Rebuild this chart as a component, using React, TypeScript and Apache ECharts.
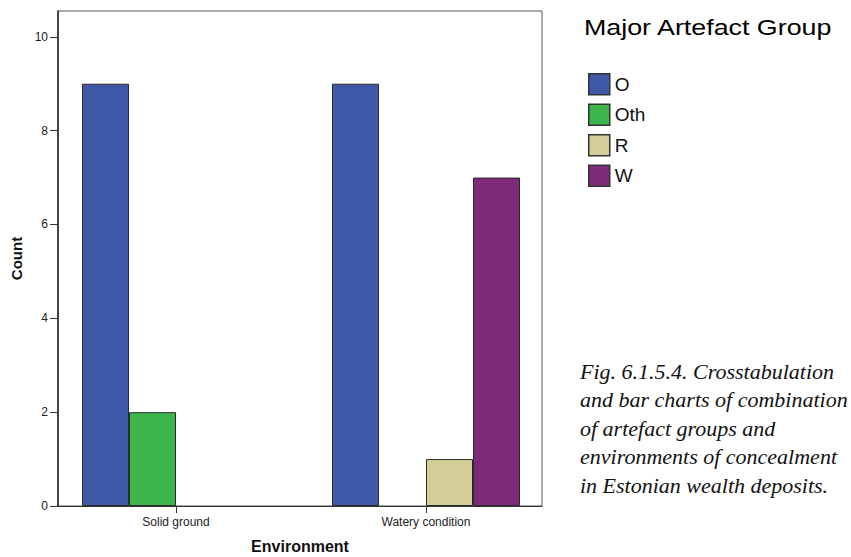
import React, { useEffect, useRef } from "react";
import * as echarts from "echarts";

const categories = ["Solid ground", "Watery condition"];
const seriesNames = ["O", "Oth", "R", "W"];
const valuesO = [9, 9];
const valuesOth = [2, null];
const valuesR = [null, 1];
const valuesW = [null, 7];
const yTicks = [0, 2, 4, 6, 8, 10];
const colors = ["#4058a8", "#3cb54b", "#d4cf98", "#7d2a7b"];
const captionLines = [
  "Fig. 6.1.5.4. Crosstabulation",
  "and bar charts of combination",
  "of artefact groups and",
  "environments of concealment",
  "in Estonian wealth deposits.",
];

const FONT = '"Liberation Sans", Arial, sans-serif';

export default function App() {
  const ref = useRef<HTMLDivElement>(null);
  useEffect(() => {
    if (!ref.current) return;
    const chart = echarts.init(ref.current, null, { renderer: "svg" });
    const allValues = [valuesO, valuesOth, valuesR, valuesW];
    chart.setOption({
      animation: false,
      backgroundColor: "#ffffff",
      textStyle: { fontFamily: FONT },
      grid: [
        { left: 58, top: 11, width: 484, height: 495, show: true, borderColor: "#555", borderWidth: 1, backgroundColor: "transparent", outerBoundsMode: "none", containLabel: false },
        { left: 51, top: 11, width: 500, height: 495, outerBoundsMode: "none", containLabel: false },
      ],
      xAxis: [
        {
          gridIndex: 0, type: "value", min: 0, max: 1,
          axisLine: { show: true, lineStyle: { color: "#333", width: 1 } },
          axisTick: { show: false }, axisLabel: { show: false }, splitLine: { show: false },
          name: "Environment", nameLocation: "middle", nameGap: 32,
          nameTextStyle: { fontFamily: FONT, fontWeight: "bold", fontSize: 16, color: "#111" },
        },
        {
          gridIndex: 1, type: "category", data: categories,
          axisLine: { show: false },
          axisTick: { show: true, alignWithLabel: true, length: 7, lineStyle: { color: "#333" } },
          axisLabel: { fontFamily: FONT, fontSize: 12, color: "#222", margin: 10 },
          splitLine: { show: false },
        },
      ],
      yAxis: [
        {
          gridIndex: 0, type: "value", min: 0, max: 10.55, interval: 2,
          axisLine: { show: true, lineStyle: { color: "#222", width: 1.5 } },
          axisTick: { show: true, length: 8, customValues: yTicks, lineStyle: { color: "#333" } },
          axisLabel: { fontFamily: FONT, fontSize: 12, color: "#222", margin: 10, customValues: yTicks },
          splitLine: { show: false },
          name: "Count", nameLocation: "middle", nameGap: 28, nameRotate: 90,
          nameTextStyle: { fontFamily: FONT, fontWeight: "bold", fontSize: 15, color: "#111" },
        },
        { gridIndex: 1, type: "value", min: 0, max: 10.55, show: false },
      ],
      legend: {
        orient: "vertical", left: 588, top: 73, padding: 0, itemWidth: 21, itemHeight: 21, itemGap: 8,
        icon: "rect", data: seriesNames,
        itemStyle: { borderColor: "#333", borderWidth: 1.5 },
        textStyle: { fontFamily: FONT, fontSize: 19, color: "#111" },
      },
      series: seriesNames.map((n, i) => ({
        name: n, type: "bar", xAxisIndex: 1, yAxisIndex: 1,
        data: allValues[i], barWidth: 47, barGap: "0%",
        itemStyle: { color: colors[i], borderColor: "#2a2a2a", borderWidth: 1 },
      })),
      graphic: [
        {
          type: "text", x: 584, y: 27, scaleX: 1.22,
          style: { text: "Major Artefact Group", font: `22px ${FONT}`, fill: "#000", align: "left", verticalAlign: "middle" },
        },
        {
          type: "text", x: 580, y: 357,
          style: {
            text: captionLines.join("\n"), font: 'italic 22px "Liberation Serif", serif',
            fill: "#111", align: "left", verticalAlign: "top", lineHeight: 28.5,
          },
        },
      ],
    });
    return () => chart.dispose();
  }, []);
  return (
    <div
      ref={ref}
      style={{ position: "fixed", left: 0, top: 0, width: 851, height: 557, background: "#fff" }}
    />
  );
}
